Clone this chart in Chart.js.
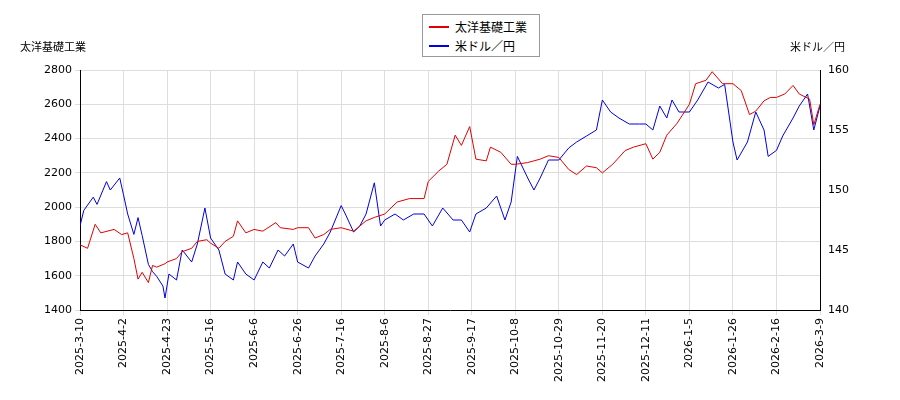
<!DOCTYPE html>
<html><head><meta charset="utf-8">
<script src="https://cdn.jsdelivr.net/npm/chart.js@4"></script>
<style>
body{margin:0;background:#fff;font-family:"Noto Sans CJK JP","DejaVu Sans",sans-serif}
#wrap{position:relative;width:900px;height:400px}
#leg{position:absolute;left:422px;top:14px;width:116px;height:41px;border:1px solid #999;background:#fff;font-size:12px}
#leg div{position:absolute;left:6px;display:flex;align-items:center}
#leg span.l{display:inline-block;width:20px;height:2px;margin-right:6px}
.t{position:absolute;font-size:11px;color:#000}
</style></head><body>
<div id="wrap"><canvas id="c" width="900" height="400"></canvas>
<div id="leg"><div style="top:3px"><span class="l" style="background:#e00000"></span>太洋基礎工業</div><div style="top:22px"><span class="l" style="background:#0000e0"></span>米ドル／円</div></div>
<div class="t" style="left:20px;top:38px">太洋基礎工業</div>
<div class="t" style="left:790px;top:38px">米ドル／円</div>
</div>
<script>
const tickDates = ["2025-3-10","2025-4-2","2025-4-23","2025-5-16","2025-6-6","2025-6-26","2025-7-16","2025-8-6","2025-8-27","2025-9-17","2025-10-8","2025-10-29","2025-11-20","2025-12-11","2026-1-5","2026-1-26","2026-2-16","2026-3-9"];
const redDates = ["3-10","3-14","3-18","3-21","3-28","4-1","4-4","4-7","4-9","4-11","4-14","4-16","4-18","4-22","4-23","4-28","5-1","5-6","5-9","5-14","5-16","5-20","5-23","5-27","5-29","6-2","6-6","6-10","6-16","6-18","6-24","6-26","7-1","7-4","7-8","7-11","7-16","7-22","7-28","8-1","8-6","8-12","8-18","8-25","8-27","9-1","9-5","9-9","9-12","9-16","9-19","9-24","9-26","10-1","10-6","10-8","10-14","10-20","10-24","10-29","11-3","11-7","11-12","11-17","11-20","11-25","12-1","12-5","12-11","12-15","12-19","12-23","12-29","1-5","1-8","1-13","1-16","1-21","1-26","1-30","2-3","2-6","2-10","2-13","2-16","2-20","2-24","2-27","3-4","3-6","3-9"];
const redValues = [1780,1760,1900,1850,1870,1840,1850,1700,1580,1620,1560,1660,1650,1670,1680,1700,1740,1760,1800,1810,1790,1760,1800,1830,1920,1850,1870,1860,1910,1880,1870,1880,1880,1820,1840,1870,1880,1860,1920,1940,1960,2030,2050,2050,2150,2210,2250,2420,2360,2470,2280,2270,2350,2320,2250,2250,2260,2280,2300,2290,2220,2190,2240,2230,2200,2250,2330,2350,2370,2280,2320,2420,2490,2600,2720,2740,2790,2720,2720,2680,2540,2560,2620,2640,2640,2660,2710,2660,2630,2480,2600];
const blueDates = ["3-10","3-12","3-17","3-19","3-24","3-26","3-31","4-2","4-4","4-7","4-9","4-11","4-14","4-16","4-18","4-21","4-22","4-24","4-28","5-1","5-6","5-9","5-13","5-16","5-20","5-23","5-27","5-29","6-2","6-6","6-10","6-13","6-17","6-20","6-24","6-26","7-1","7-4","7-8","7-11","7-16","7-18","7-22","7-25","7-28","8-1","8-4","8-6","8-11","8-15","8-20","8-25","8-29","9-3","9-8","9-12","9-16","9-19","9-24","9-29","10-3","10-6","10-9","10-14","10-17","10-20","10-24","10-29","11-3","11-7","11-12","11-17","11-20","11-24","11-28","12-3","12-8","12-11","12-15","12-19","12-23","12-26","12-30","1-5","1-9","1-14","1-19","1-22","1-26","1-28","2-2","2-6","2-10","2-12","2-16","2-19","2-24","2-27","3-3","3-6","3-9"];
const blueValues = [147,148.3,149.4,148.8,150.7,150,151,149.6,148,146.3,147.7,146.2,143.8,143.2,142.8,142,141,143,142.5,145,144,145.5,148.5,146,145,143,142.5,144,143,142.5,144,143.5,145,144.5,145.5,144,143.5,144.5,145.5,146.5,148.7,148,146.5,147,148,150.6,147,147.5,148,147.5,148,148,147,148.5,147.5,147.5,146.5,148,148.5,149.5,147.5,149,152.8,151,150,151,152.5,152.5,153.5,154,154.5,155,157.5,156.5,156,155.5,155.5,155.5,155,157,156,157.5,156.5,156.5,157.5,159,158.5,158.8,154,152.5,154,156.5,155,152.8,153.3,154.5,156,157,158,155,157];
const leftTicks = [1400,1600,1800,2000,2200,2400,2600,2800];
const rightTicks = [140,145,150,155,160];

const ms = s=>{const [y,m,d]=s.split('-').map(Number);return Date.UTC(y,m-1,d);};
const tickMs = tickDates.map(ms);
function pos(md,i,arr){
  const [m,d]=md.split('-').map(Number);
  const firstJan = arr.findIndex(s=>s.startsWith('1-'));
  const y = (firstJan>=0 && i>=firstJan)?2026:2025;
  const t = Date.UTC(y,m-1,d);
  for(let k=0;k<tickMs.length-1;k++){
    if(t<=tickMs[k+1]) return k+(t-tickMs[k])/(tickMs[k+1]-tickMs[k]);
  }
  return tickMs.length-1;
}
const red = redDates.map((d,i)=>({x:pos(d,i,redDates),y:redValues[i]}));
const blue = blueDates.map((d,i)=>({x:pos(d,i,blueDates),y:blueValues[i]}));
const font={family:"DejaVu Sans",size:11};
new Chart(document.getElementById('c'),{
 type:'line',
 data:{datasets:[
  {data:red,borderColor:'#e00000',borderWidth:1,pointRadius:0,yAxisID:'y',tension:0},
  {data:blue,borderColor:'#0000e0',borderWidth:1,pointRadius:0,yAxisID:'y1',tension:0}]},
 options:{responsive:false,animation:false,
  layout:{padding:{left:0,right:0,top:70,bottom:0}},
  plugins:{legend:{display:false},tooltip:{enabled:false}},
  scales:{
   x:{type:'linear',min:0,max:tickDates.length-1,afterBuildTicks:s=>{s.ticks=tickDates.map((_,i)=>({value:i}))},
      ticks:{callback:v=>tickDates[v],maxRotation:90,minRotation:90,font,color:'#000',autoSkip:false},
      grid:{color:'#ddd',tickLength:5},border:{color:'#000'},afterFit:s=>{s.height=90}},
   y:{position:'left',min:1400,max:2800,afterBuildTicks:s=>{s.ticks=leftTicks.map(v=>({value:v}))},
      ticks:{font,color:'#000',callback:v=>String(v)},grid:{color:'#ddd',tickLength:5},border:{color:'#000'},afterFit:s=>{s.width=80}},
   y1:{position:'right',min:140,max:160,afterBuildTicks:s=>{s.ticks=rightTicks.map(v=>({value:v}))},
      ticks:{font,color:'#000',callback:v=>String(v)},grid:{display:false,tickLength:5},border:{color:'#000'},afterFit:s=>{s.width=80}}
  }}
});
</script></body></html>
